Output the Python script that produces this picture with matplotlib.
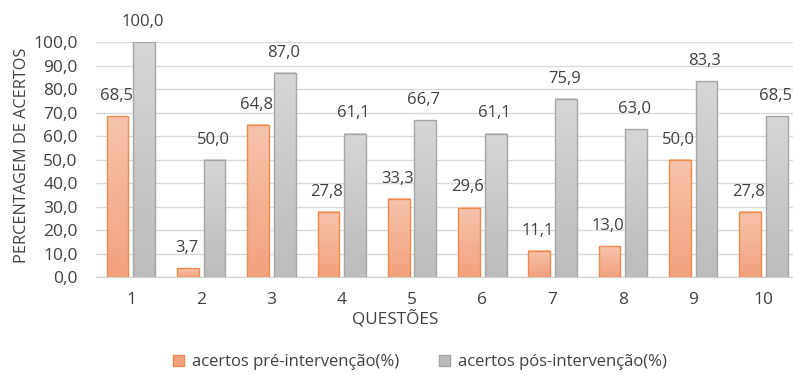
import numpy as np
import matplotlib
matplotlib.use("Agg")
import matplotlib.pyplot as plt
from matplotlib.colors import LinearSegmentedColormap
from matplotlib.patches import Rectangle

questions = ["1", "2", "3", "4", "5", "6", "7", "8", "9", "10"]
pre = [68.5, 3.7, 64.8, 27.8, 33.3, 29.6, 11.1, 13.0, 50.0, 27.8]
post = [100.0, 50.0, 87.0, 61.1, 66.7, 61.1, 75.9, 63.0, 83.3, 68.5]
series_names = ["acertos pré-intervenção(%)", "acertos pós-intervenção(%)"]
y_ticks = np.arange(0, 101, 10)

plt.rcParams["font.family"] = ["Open Sans", "DejaVu Sans"]
text_color = "#404040"

fig = plt.figure(figsize=(7.93, 3.75), dpi=100)
ax = fig.add_axes([95.8 / 793, (375 - 277) / 375, (798.5 - 95.8) / 793, (277 - 42.3) / 375])

x = np.arange(1, len(questions) + 1)
width = 0.31
offset = 0.19

styles = [
    dict(top="#F7C4AB", bottom="#F3A17D", edge="#EE8B4E"),
    dict(top="#D6D6D6", bottom="#BCBCBC", edge="#A6A6A6"),
]


def gradient_bars(xs, values, st):
    cmap = LinearSegmentedColormap.from_list("g", [st["bottom"], st["top"]])
    grad = np.linspace(0, 1, 256).reshape(-1, 1)
    bars = ax.bar(xs, values, width, facecolor="none", edgecolor=st["edge"],
                  linewidth=1.0, zorder=3)
    for b in bars:
        x0, y0 = b.get_x(), b.get_y()
        w, h = b.get_width(), b.get_height()
        ax.imshow(grad, cmap=cmap, origin="lower", aspect="auto",
                  extent=(x0, x0 + w, y0, y0 + h), zorder=2,
                  interpolation="bilinear")
    return bars


b1 = gradient_bars(x - offset, pre, styles[0])
b2 = gradient_bars(x + offset, post, styles[1])

for xs, vals in ((x - offset, pre), (x + offset, post)):
    for xi, v in zip(xs, vals):
        ax.annotate(f"{v:.1f}".replace(".", ","), (xi, v), xytext=(-1, 14.5),
                    textcoords="offset points", ha="center", va="center",
                    fontsize=12, color=text_color, annotation_clip=False)

ax.set_xlim(0.5, 10.5)
ax.set_ylim(0, 100)
ax.set_yticks(y_ticks)
ax.set_yticklabels([f"{t:.1f}".replace(".", ",") for t in y_ticks])
ax.set_xticks(x)
ax.set_xticklabels(questions)
ax.tick_params(axis="both", length=0, labelsize=12.5, labelcolor=text_color)
ax.tick_params(axis="y", pad=13)
ax.tick_params(axis="x", pad=11)
ax.grid(axis="y", color="#D9D9D9", linewidth=1.0, zorder=0)
ax.set_axisbelow(True)
for s in ("top", "right", "left"):
    ax.spines[s].set_visible(False)
ax.spines["bottom"].set_color("#D0D0D0")
ax.spines["bottom"].set_zorder(4)

fig.text(22 / 793, 1 - 155 / 375, "PERCENTAGEM DE ACERTOS", rotation=90,
         ha="center", va="center", fontsize=11.7, color=text_color)
fig.text(395 / 793, 1 - 320 / 375, "QUESTÕES", ha="center", va="center",
         fontsize=12.3, color=text_color)

handles = [Rectangle((0, 0), 1, 1, facecolor=styles[0]["bottom"], edgecolor=styles[0]["edge"]),
           Rectangle((0, 0), 1, 1, facecolor=styles[1]["bottom"], edgecolor=styles[1]["edge"])]
fig.legend(handles, series_names, loc="center", bbox_to_anchor=(420 / 793, 1 - 362 / 375),
           ncol=2, frameon=False, fontsize=12.0, labelcolor=text_color,
           handlelength=0.65, handleheight=0.65, handletextpad=0.5, columnspacing=2.4,
           borderpad=0, borderaxespad=0)

fig.savefig("out.png", dpi=100)
